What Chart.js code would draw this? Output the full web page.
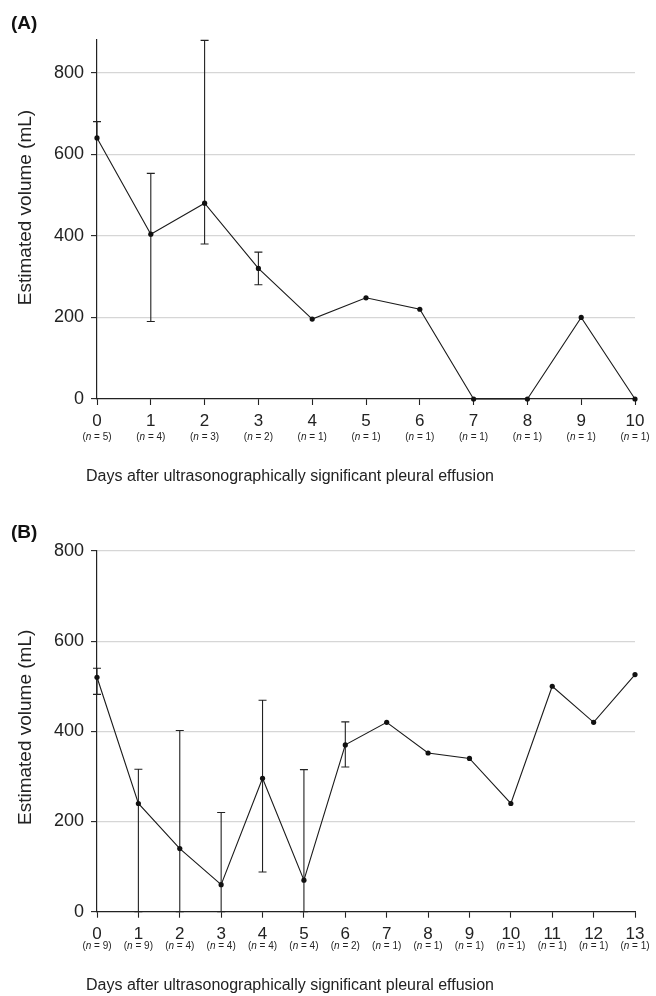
<!DOCTYPE html>
<html><head><meta charset="utf-8">
<script src="https://cdn.jsdelivr.net/npm/chart.js@4.4.1/dist/chart.umd.min.js"></script>
<style>
html,body{margin:0;padding:0;background:#fff;}
#wrap{position:relative;width:656px;height:996px;overflow:hidden;}
.box{position:absolute;left:0;width:656px;}
</style></head><body>
<div id="wrap">
<div class="box" style="top:0;height:490px"><canvas id="cA"></canvas></div>
<div class="box" style="top:490px;height:506px"><canvas id="cB"></canvas></div>
</div>
<script>
// ---- Data: panel A ----
const daysA  = [0, 1, 2, 3, 4, 5, 6, 7, 8, 9, 10];
const meanA  = [640, 404, 480, 320, 196, 248, 220, 0, 0, 200, 0];
const lowA   = [null, 190, 380, 280, null, null, null, null, null, null, null];
const highA  = [680, 553, 879, 360, null, null, null, null, null, null, null];
const nA     = [5, 4, 3, 2, 1, 1, 1, 1, 1, 1, 1];
const yTicksA = [0, 200, 400, 600, 800];

// ---- Data: panel B ----
const daysB  = [0, 1, 2, 3, 4, 5, 6, 7, 8, 9, 10, 11, 12, 13];
const meanB  = [520, 240, 140, 60, 296, 70, 370, 420, 352, 340, 240, 500, 420, 526];
const lowB   = [482, 0, 0, 0, 88, 0, 321, null, null, null, null, null, null, null];
const highB  = [540, 316, 402, 220, 469, 315, 421, null, null, null, null, null, null, null];
const nB     = [9, 9, 4, 4, 4, 4, 2, 1, 1, 1, 1, 1, 1, 1];
const yTicksB = [0, 200, 400, 600, 800];

const xTitle = "Days after ultrasonographically significant pleural effusion";
const yTitle = "Estimated volume (mL)";

const SANS = "'Liberation Sans', Arial, Helvetica, sans-serif";

function extrasPlugin(o) {
  return {
    id: 'extras',
    beforeDatasetsDraw(chart) {
      const ctx = chart.ctx, xs = chart.scales.x, ys = chart.scales.y;
      ctx.save();
      ctx.strokeStyle = '#222';
      ctx.lineWidth = 1.1;
      o.days.forEach((d, i) => {
        const x = xs.getPixelForValue(d);
        const ym = ys.getPixelForValue(o.mean[i]);
        const cap = 4;
        [o.low[i], o.high[i]].forEach(v => {
          if (v === null || v === undefined) return;
          const yv = ys.getPixelForValue(v);
          ctx.beginPath();
          ctx.moveTo(x, ym); ctx.lineTo(x, yv);
          ctx.moveTo(x - cap, yv); ctx.lineTo(x + cap, yv);
          ctx.stroke();
        });
      });
      ctx.restore();
    },
    afterDraw(chart) {
      const ctx = chart.ctx, xs = chart.scales.x, ca = chart.chartArea;
      ctx.save();
      ctx.fillStyle = '#222';
      // n labels
      ctx.textBaseline = 'middle';
      const fs = 10;
      const fReg = fs + 'px ' + SANS;
      const fIt = 'italic ' + fs + 'px ' + SANS;
      o.days.forEach((d, i) => {
        const x = xs.getPixelForValue(d);
        const y = ca.bottom + o.nOffset;
        const p1 = '(', p2 = 'n', p3 = ' = ' + o.n[i] + ')';
        ctx.font = fReg; const w1 = ctx.measureText(p1).width, w3 = ctx.measureText(p3).width;
        ctx.font = fIt; const w2 = ctx.measureText(p2).width;
        let sx = x - (w1 + w2 + w3) / 2;
        ctx.textAlign = 'left';
        ctx.font = fReg; ctx.fillText(p1, sx, y); sx += w1;
        ctx.font = fIt; ctx.fillText(p2, sx, y); sx += w2;
        ctx.font = fReg; ctx.fillText(p3, sx, y);
      });
      // x title
      ctx.textAlign = 'center';
      ctx.font = '16px ' + SANS;
      ctx.fillText(xTitle, ca.left + o.xTitleDX, ca.bottom + o.xTitleDY);
      // y title
      ctx.save();
      ctx.translate(ca.left - 71, (ca.top + ca.bottom) / 2 + o.yTitleDY);
      ctx.rotate(-Math.PI / 2);
      ctx.font = '19px ' + SANS;
      ctx.fillText(yTitle, 0, 0);
      ctx.restore();
      // panel label
      ctx.textAlign = 'left';
      ctx.font = 'bold 19px ' + SANS;
      ctx.fillStyle = '#111';
      ctx.fillText(o.panel, 11, o.panelY);
      ctx.restore();
    }
  };
}

function makeChart(id, o) {
  const pts = o.days.map((d, i) => ({x: d, y: o.mean[i]}));
  return new Chart(document.getElementById(id), {
    type: 'line',
    data: { datasets: [{
      data: pts,
      borderColor: '#1a1a1a', borderWidth: 1.1,
      pointRadius: 2.6, pointBackgroundColor: '#111', pointBorderColor: '#111', pointBorderWidth: 0,
      tension: 0, clip: false, fill: false
    }]},
    options: {
      responsive: true, maintainAspectRatio: false, animation: false,
      devicePixelRatio: 1,
      layout: { padding: { top: o.padTop, right: 21, left: 0, bottom: 0 } },
      plugins: { legend: {display: false}, tooltip: {enabled: false} },
      scales: {
        x: {
          type: 'linear', min: 0, max: o.days[o.days.length - 1],
          afterFit: s => { s.height = o.xHeight; },
          border: { color: '#222', width: 1.2 },
          grid: { display: true, drawOnChartArea: false, drawTicks: true, tickLength: 6, tickColor: '#222', tickWidth: 1.1 },
          ticks: { stepSize: 1, autoSkip: false, maxRotation: 0, padding: 6, color: '#222',
                   font: { size: 17, family: SANS } }
        },
        y: {
          min: 0, max: o.yMax,
          afterFit: s => { s.width = 97; },
          afterBuildTicks: s => { s.ticks = o.yTicks.map(v => ({value: v})); },
          border: { color: '#222', width: 1.2 },
          grid: { color: c => (c.tick && c.tick.value === 0) ? 'rgba(0,0,0,0)' : '#d6d6d6',
                  lineWidth: 1.2, tickColor: '#222', tickLength: 6, tickWidth: 1.1 },
          ticks: { padding: 7, color: '#222', font: { size: 18, family: SANS }, includeBounds: false }
        }
      }
    },
    plugins: [extrasPlugin(o)]
  });
}

makeChart('cA', {
  days: daysA, mean: meanA, low: lowA, high: highA, n: nA, yTicks: yTicksA,
  yMax: 880, padTop: 40, xHeight: 91, nOffset: 38, xTitleDX: 193, xTitleDY: 78,
  yTitleDY: -12, panel: '(A)', panelY: 24
});
makeChart('cB', {
  days: daysB, mean: meanB, low: lowB, high: highB, n: nB, yTicks: yTicksB,
  yMax: 800, padTop: 61, xHeight: 84.3, nOffset: 35, xTitleDX: 193, xTitleDY: 74,
  yTitleDY: -4, panel: '(B)', panelY: 43
});
</script>
</body></html>
